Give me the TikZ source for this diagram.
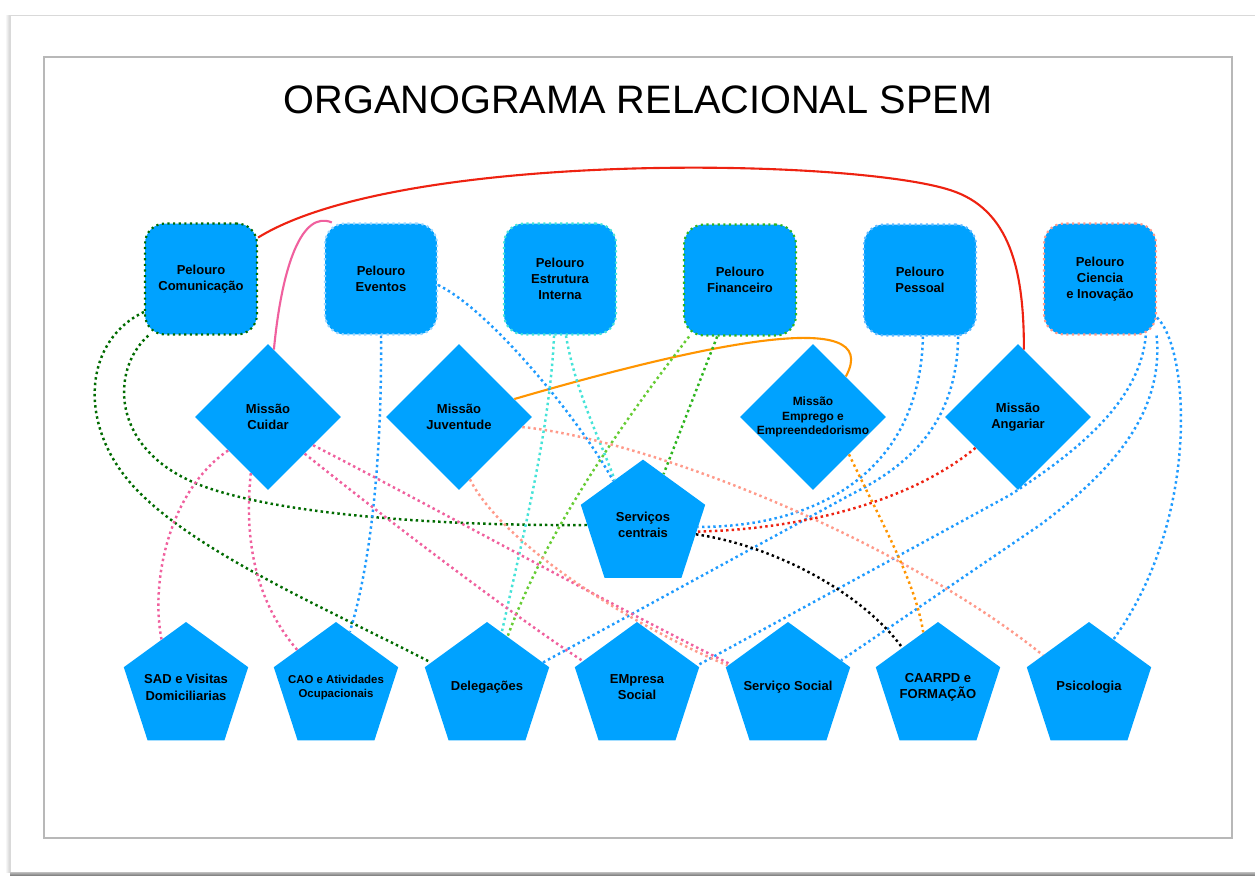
\documentclass[tikz,border=0pt]{standalone}
\usepackage{fontspec}
\setmainfont{Liberation Sans}
\usetikzlibrary{shapes.geometric}

\definecolor{spemblue}{HTML}{00A2FF}
\definecolor{cdkgreen}{HTML}{006B00}
\definecolor{cgreen}{HTML}{2DB51E}
\definecolor{clgreen}{HTML}{66CC33}
\definecolor{cpaleblue}{HTML}{9AD6FF}
\definecolor{ccyan}{HTML}{45E3D8}
\definecolor{cblue}{HTML}{1E9BFF}
\definecolor{csalmon}{HTML}{FF9A8A}
\definecolor{cpink}{HTML}{F0609E}
\definecolor{corange}{HTML}{FF9500}
\definecolor{cred}{HTML}{EE2211}

\tikzset{
	pelouro/.style={draw=#1, dotted, line width=1.2pt, rounded corners=0.4cm, fill=spemblue,
		minimum width=2.24cm, minimum height=2.22cm, inner sep=0pt, align=center,
		font=\fontsize{7.4}{9.2}\selectfont\bfseries},
	missao/.style={diamond, fill=spemblue, minimum size=2.92cm, inner sep=0pt},
	servico/.style={regular polygon, regular polygon sides=5, fill=spemblue, minimum size=2.616cm, inner sep=0pt},
	txt/.style={align=center, font=\fontsize{7.4}{9.2}\selectfont\bfseries},
	link/.style={line width=1.4pt, dash pattern=on 1.4pt off 1.8pt},
	elo/.style={line width=1.2pt},
}

\begin{document}
\begin{tikzpicture}[x=0.02cm, y=-0.02cm]
	\useasboundingbox (0, 0) rectangle (1255, 876);
	\fill[white] (0, 0) rectangle (1255, 876);
	\fill[left color=white, right color=black!18] (5, 15) rectangle (10, 872);
	\draw[black!15, line width=0.5pt] (1255, 15) -- (10, 15) -- (10, 872);
	\fill[top color=black!25, bottom color=black!55] (10, 872) rectangle (1255, 876);
	\draw[black!28, line width=0.6pt] (44, 57) rectangle (1232, 838);

	\draw node[font=\fontsize{22.6}{26}\selectfont] at (638, 100) (titulo) {ORGANOGRAMA RELACIONAL SPEM};

	\draw node[pelouro=cdkgreen] at (201, 279) (pcom) {Pelouro\\Comunicação};
	\draw node[pelouro=cpaleblue] at (381, 279) (peve) {Pelouro\\Eventos};
	\draw node[pelouro=ccyan] at (560, 279) (pest) {Pelouro\\Estrutura\\Interna};
	\draw node[pelouro=cgreen] at (740, 280) (pfin) {Pelouro\\Financeiro};
	\draw node[pelouro=cblue!70] at (920, 280) (ppes) {Pelouro\\Pessoal};
	\draw node[pelouro=csalmon] at (1100, 279) (pcie) {Pelouro\\Ciencia\\e Inovação};

	\draw node[missao, label={[txt]center:Missão\\Cuidar}] at (268, 417) (mcui) {};
	\draw node[missao, label={[txt]center:Missão\\Juventude}] at (459, 417) (mjuv) {};
	\draw node[missao, label={[txt, font=\fontsize{6.8}{8.2}\selectfont\bfseries]center:Missão\\Emprego e\\Empreendedorismo}] at (813, 417) (memp) {};
	\draw node[missao, label={[txt]center:Missão\\Angariar}] at (1018, 417) (mang) {};

	\draw node[servico, label={[txt]center:Serviços\\centrais}] at (643, 525) (scen) {};
	\draw node[servico, label={[txt]center:SAD e Visitas\\Domiciliarias}] at (186, 687.4) (sad) {};
	\draw node[servico, label={[txt, font=\fontsize{6.5}{8}\selectfont\bfseries]center:CAO e Atividades\\Ocupacionais}] at (336, 687.4) (cao) {};
	\draw node[servico, label={[txt]center:Delegações}] at (487, 687.4) (del) {};
	\draw node[servico, label={[txt]center:EMpresa\\Social}] at (637, 687.4) (emp) {};
	\draw node[servico, label={[txt]center:Serviço Social}] at (788, 687.4) (sso) {};
	\draw node[servico, label={[txt]center:CAARPD e\\FORMAÇÃO}] at (938, 687.4) (caa) {};
	\draw node[servico, label={[txt]center:Psicologia}] at (1089, 687.4) (psi) {};

	\draw [elo, cred] (pcom.36) .. controls (400, 150) and (850, 158) .. (950, 190) .. controls (1010, 209) and (1024, 270) .. (mang.85);
	\draw [elo, cpink] (mcui.85) .. controls (282, 265) and (302, 210) .. (peve.131);
	\draw [elo, corange] (mjuv.18) .. controls (700, 345) and (885, 305) .. (memp.51);

	\draw [link, cdkgreen] (pcom.210) .. controls (85, 340) and (78, 420) .. (128, 480) .. controls (184, 548) and (330, 610) .. (del.156);
	\draw [link, cdkgreen] (pcom.227) .. controls (110, 370) and (110, 450) .. (200, 485) .. controls (281, 516) and (450, 526) .. (scen.180);
	\draw [link, cblue] (peve.south) .. controls (382, 450) and (372, 560) .. (cao.76);
	\draw [link, cblue] (peve.-6) .. controls (490, 310) and (580, 420) .. (scen.124);
	\draw [link, ccyan] (pest.264) .. controls (550, 430) and (522, 540) .. (del.75);
	\draw [link, ccyan] (pest.276) .. controls (575, 390) and (600, 440) .. (scen.122);
	\draw [link, clgreen] (pfin.228) .. controls (640, 400) and (550, 520) .. (del.68);
	\draw [link, cgreen] (pfin.248) -- (scen.68);
	\draw [link, cblue] (ppes.-87) .. controls (920, 470) and (820, 527) .. (scen.-2);
	\draw [link, cblue] (ppes.-56) .. controls (957, 430) and (900, 470) .. (850, 495) -- (del.24);
	\draw [link, cblue] (pcie.-51) .. controls (1140, 400) and (1080, 450) .. (1010, 495) -- (emp.20);
	\draw [link, cblue] (pcie.-45) .. controls (1165, 420) and (1100, 480) .. (1040, 525) -- (sso.27);
	\draw [link, cblue] (pcie.-34) .. controls (1190, 350) and (1200, 520) .. (psi.63);
	\draw [link, cpink] (mcui.220) .. controls (170, 490) and (150, 580) .. (sad.117);
	\draw [link, cpink] (mcui.253) .. controls (244, 540) and (255, 600) .. (cao.136);
	\draw [link, cpink] (mcui.-32) .. controls (420, 500) and (620, 610) .. (sso.158);
	\draw [link, cpink] (mcui.-45) .. controls (400, 530) and (520, 620) .. (emp.154);
	\draw [link, csalmon] (mjuv.-9) .. controls (650, 440) and (900, 540) .. (psi.145);
	\draw [link, csalmon] (mjuv.-80) .. controls (500, 540) and (620, 620) .. (sso.160);
	\draw [link, corange] (memp.-46) .. controls (880, 520) and (915, 580) .. (caa.105);
	\draw [link, cred] (mang.216) .. controls (900, 510) and (780, 530) .. (scen.-7);
	\draw [link, black] (scen.-10) .. controls (770, 545) and (860, 590) .. (caa.132);
\end{tikzpicture}
\end{document}
